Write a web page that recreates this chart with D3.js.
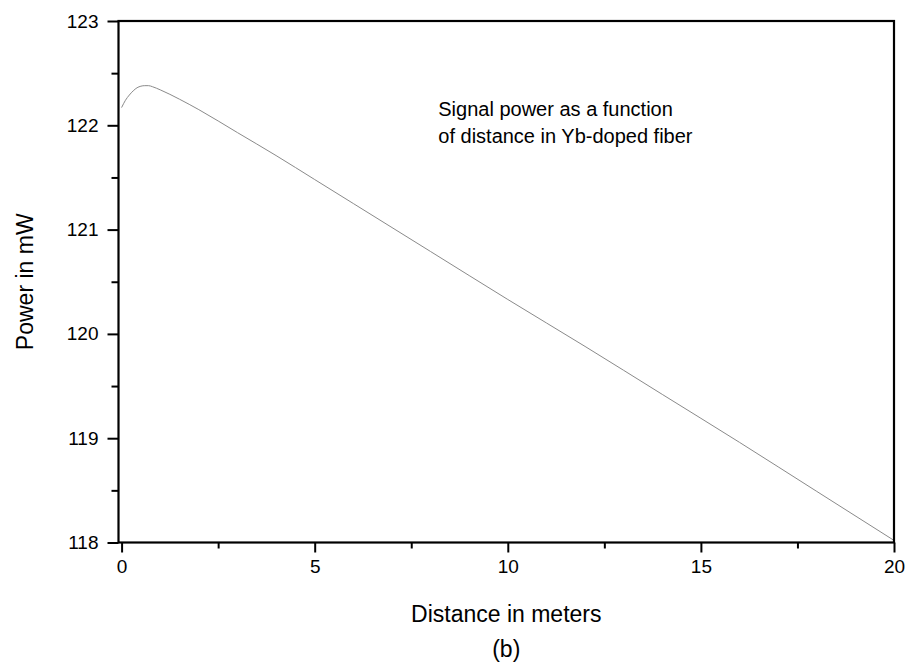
<!DOCTYPE html>
<html><head><meta charset="utf-8">
<script src="https://cdn.jsdelivr.net/npm/d3@7"></script>
<style>body{margin:0;background:#fff}text{font-family:"Liberation Sans",Arial,sans-serif;fill:#000}</style>
</head><body><svg id="c" width="913" height="671"></svg>
<script>
const distance = [0,0.1,0.2,0.3,0.4,0.5,0.6,0.7,0.8,1.0,1.5,2,3,4,5,6,8,10,12,14,16,18,20];
const power = [122.17,122.24,122.29,122.33,122.36,122.375,122.38,122.38,122.37,122.34,122.25,122.15,121.93,121.71,121.48,121.25,120.79,120.33,119.88,119.42,118.96,118.49,118.02];
const xTicks = [0,5,10,15,20];
const xMinor = [2.5,7.5,12.5,17.5];
const yTicks = [118,119,120,121,122,123];
const yMinor = [118.5,119.5,120.5,121.5,122.5];
const xTitle = "Distance in meters";
const yTitle = "Power in mW";
const caption = "(b)";
const note = ["Signal power as a function","of distance in Yb-doped fiber"];

const svg = d3.select("#c");
const L=118.5,R=894,T=21,B=542.5;
const x = d3.scaleLinear().domain([-0.08,20]).range([L,R]);
const y = d3.scaleLinear().domain([118,123]).range([B,T]);

// curve
svg.append("path").datum(distance.map((d,i)=>[d,power[i]]))
  .attr("fill","none").attr("stroke","#8a8a8a").attr("stroke-width",1)
  .attr("d",d3.line().x(d=>x(d[0])).y(d=>y(d[1])).curve(d3.curveMonotoneX));

// axes
const ax = svg.append("g");
ax.append("g").attr("transform",`translate(0,${B})`)
  .call(d3.axisBottom(x).tickValues(xTicks).tickSize(10).tickFormat(d3.format("d")).tickPadding(7));
ax.append("g").attr("transform",`translate(0,${B})`)
  .call(d3.axisBottom(x).tickValues(xMinor).tickSize(6).tickFormat(""));
ax.append("g").attr("transform",`translate(${L},0)`)
  .call(d3.axisLeft(y).tickValues(yTicks).tickSize(11).tickFormat(d3.format("d")).tickPadding(9));
ax.append("g").attr("transform",`translate(${L},0)`)
  .call(d3.axisLeft(y).tickValues(yMinor).tickSize(7).tickFormat(""));
ax.selectAll(".domain").remove();
ax.selectAll("line").attr("stroke","#000").attr("stroke-width",2);
ax.selectAll("text").style("font-size","19px").attr("fill","#000");
// frame
svg.append("rect").attr("x",L).attr("y",T).attr("width",R-L).attr("height",B-T)
  .attr("fill","none").attr("stroke","#000").attr("stroke-width",2.2);

// titles
svg.append("text").attr("x",(L+R)/2).attr("y",622).attr("text-anchor","middle")
  .style("font-size","23px").text(xTitle);
svg.append("text").attr("x",(L+R)/2).attr("y",657).attr("text-anchor","middle")
  .style("font-size","23px").text(caption);
svg.append("text").attr("transform",`translate(33,${(T+B)/2}) rotate(-90)`).attr("text-anchor","middle")
  .style("font-size","23px").text(yTitle);

// annotation
const nt = svg.append("text").attr("x",x(8.2)).attr("y",y(122.09)).style("font-size","20px");
note.forEach((s,i)=>nt.append("tspan").attr("x",x(8.2)).attr("dy",i?27:0).text(s));
</script></body></html>
